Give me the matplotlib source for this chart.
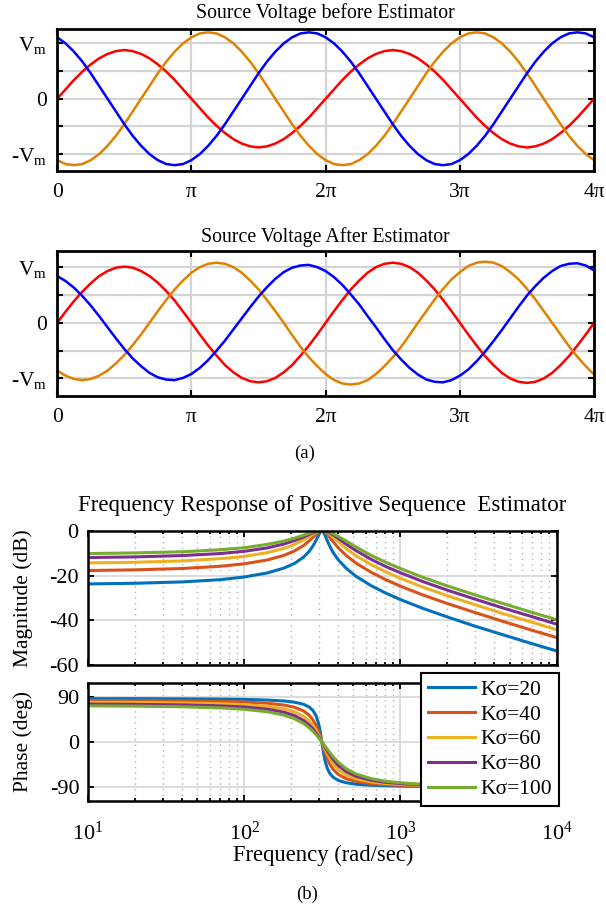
import numpy as np
import matplotlib
matplotlib.use('Agg')
import matplotlib.pyplot as plt
from matplotlib.ticker import LogLocator, NullFormatter

plt.rcParams['font.family'] = ['Liberation Serif', 'DejaVu Serif']
plt.rcParams['mathtext.fontset'] = 'custom'
plt.rcParams['mathtext.rm'] = 'Liberation Serif'
plt.rcParams['mathtext.it'] = 'Liberation Serif:italic'
plt.rcParams['axes.unicode_minus'] = False

# ---- (a) source voltages, x in units of pi, y in units of Vm ----
t_pi = [0, 0.0625, 0.125, 0.1875, 0.25, 0.3125, 0.375, 0.4375, 0.5, 0.5625, 0.625, 0.6875, 0.75, 0.8125, 0.875, 0.9375,
        1.0, 1.0625, 1.125, 1.1875, 1.25, 1.3125, 1.375, 1.4375, 1.5, 1.5625, 1.625, 1.6875, 1.75, 1.8125, 1.875, 1.9375,
        2.0, 2.0625, 2.125, 2.1875, 2.25, 2.3125, 2.375, 2.4375, 2.5, 2.5625, 2.625, 2.6875, 2.75, 2.8125, 2.875, 2.9375,
        3.0, 3.0625, 3.125, 3.1875, 3.25, 3.3125, 3.375, 3.4375, 3.5, 3.5625, 3.625, 3.6875, 3.75, 3.8125, 3.875, 3.9375,
        4.0]

before_red = [0, .17, .34, .49, .62, .73, .81, .86, .88, .86, .81, .73, .62, .49, .34, .17,
              0, -.17, -.34, -.49, -.62, -.73, -.81, -.86, -.88, -.86, -.81, -.73, -.62, -.49, -.34, -.17,
              0, .17, .34, .49, .62, .73, .81, .86, .88, .86, .81, .73, .62, .49, .34, .17,
              0, -.17, -.34, -.49, -.62, -.73, -.81, -.86, -.88, -.86, -.81, -.73, -.62, -.49, -.34, -.17,
              0]
before_orange = [-1.11, -1.18, -1.2, -1.18, -1.11, -1.0, -.85, -.67, -.46, -.23,
                 0, .23, .46, .67, .85, 1.0, 1.11, 1.18, 1.2, 1.18, 1.11, 1.0, .85, .67, .46, .23,
                 0, -.23, -.46, -.67, -.85, -1.0, -1.11, -1.18, -1.2, -1.18, -1.11, -1.0, -.85, -.67, -.46, -.23,
                 0, .23, .46, .67, .85, 1.0, 1.11, 1.18, 1.2, 1.18, 1.11, 1.0, .85, .67, .46, .23,
                 0, -.23, -.46, -.67, -.85, -1.0, -1.11]
before_blue = [1.11, 1.0, .85, .67, .46, .23, 0, -.23, -.46, -.67, -.85, -1.0, -1.11, -1.18, -1.2, -1.18,
               -1.11, -1.0, -.85, -.67, -.46, -.23, 0, .23, .46, .67, .85, 1.0, 1.11, 1.18, 1.2, 1.18,
               1.11, 1.0, .85, .67, .46, .23, 0, -.23, -.46, -.67, -.85, -1.0, -1.11, -1.18, -1.2, -1.18,
               -1.11, -1.0, -.85, -.67, -.46, -.23, 0, .23, .46, .67, .85, 1.0, 1.11, 1.18, 1.2, 1.18,
               1.11]

after_red = [0, .20, .39, .56, .71, .84, .93, .99, 1.01, .99, .93, .84, .72, .57, .40, .20,
             0, -.21, -.41, -.59, -.76, -.89, -.99, -1.05, -1.07, -1.05, -.99, -.89, -.76, -.59, -.41, -.21,
             0, .21, .41, .60, .76, .90, 1.0, 1.06, 1.08, 1.06, 1.0, .90, .76, .60, .41, .21,
             0, -.21, -.41, -.60, -.76, -.90, -1.0, -1.06, -1.08, -1.06, -1.0, -.90, -.76, -.60, -.41, -.21,
             0]
after_orange = [-.86, -.95, -1.01, -1.03, -1.01, -.95, -.86, -.73, -.58, -.40, -.21, 0, .21, .41, .60, .76,
                .90, 1.0, 1.06, 1.08, 1.06, 1.0, .90, .76, .60, .41, .21, 0, -.22, -.43, -.62, -.78,
                -.92, -1.03, -1.09, -1.11, -1.09, -1.03, -.92, -.78, -.62, -.43, -.22, 0, .21, .42, .61, .78,
                .91, 1.02, 1.08, 1.10, 1.08, 1.02, .91, .78, .61, .42, .21, 0, -.21, -.42, -.61, -.78,
                -.93]
after_blue = [.84, .75, .63, .48, .31, .12, -.08, -.28, -.47, -.64, -.78, -.90, -.98, -1.02, -1.03, -.99,
              -.92, -.81, -.67, -.50, -.32, -.12, .08, .28, .47, .64, .79, .91, .99, 1.03, 1.04, 1.0,
              .93, .82, .68, .51, .33, .12, -.08, -.29, -.49, -.66, -.81, -.93, -1.02, -1.06, -1.07, -1.03,
              -.95, -.84, -.69, -.52, -.33, -.13, .08, .29, .49, .66, .81, .93, 1.02, 1.06, 1.07, 1.03,
              .94]

# ---- (b) frequency response ----
w = [10, 20, 40, 70, 100, 140, 180, 210, 240, 260, 275, 288, 298, 305, 310, 314, 318, 323, 330, 340, 352,
     370, 400, 450, 520, 650, 800, 1000, 1400, 2000, 3000, 4500, 7000, 10000]

mag20 = [-23.7, -23.4, -22.8, -21.8, -20.6, -18.8, -16.6, -14.5, -11.7, -9.2, -6.8, -4.3, -2.1, -0.8, -0.2, 0,
         -0.2, -0.8, -2.1, -4.3, -6.6, -9.5, -12.9, -16.7, -20.3, -24.5, -27.7, -30.7, -34.7, -38.5, -42.6, -46.4, -50.5, -53.7]
mag40 = [-17.7, -17.4, -16.8, -15.8, -14.7, -13.0, -10.9, -8.9, -6.5, -4.5, -2.9, -1.5, -0.6, -0.2, -0.04, 0,
         -0.04, -0.2, -0.6, -1.5, -2.8, -4.7, -7.5, -11.0, -14.4, -18.5, -21.7, -24.7, -28.7, -32.5, -36.5, -40.4, -44.5, -47.7]
mag60 = [-14.3, -14.0, -13.4, -12.4, -11.4, -9.7, -7.8, -6.0, -4.0, -2.6, -1.5, -0.7, -0.3, -0.1, -0.02, 0,
         -0.02, -0.1, -0.3, -0.7, -1.5, -2.7, -4.8, -7.9, -11.1, -15.1, -18.2, -21.2, -25.2, -29.0, -33.0, -36.9, -40.9, -44.2]
mag80 = [-11.9, -11.6, -11.0, -10.1, -9.1, -7.6, -5.8, -4.3, -2.7, -1.6, -0.9, -0.4, -0.2, -0.05, -0.01, 0,
         -0.01, -0.05, -0.2, -0.4, -0.9, -1.7, -3.3, -5.9, -8.8, -12.7, -15.8, -18.7, -22.7, -26.5, -30.5, -34.4, -38.4, -41.7]
mag100 = [-10.1, -9.8, -9.3, -8.4, -7.5, -6.0, -4.5, -3.2, -1.9, -1.1, -0.6, -0.3, -0.1, -0.04, 0, 0,
          0, -0.04, -0.1, -0.3, -0.6, -1.2, -2.4, -4.5, -7.2, -10.9, -13.9, -16.8, -20.8, -24.6, -28.6, -32.4, -36.5, -39.7]

ph20 = [86.2, 86.1, 85.8, 85.3, 84.7, 83.4, 81.5, 79.1, 74.9, 69.7, 62.9, 52.4, 38.7, 24.2, 11.3, 0,
        -11.3, -24.2, -38.7, -52.4, -62.2, -70.3, -76.9, -81.6, -84.5, -86.6, -87.6, -88.3, -88.9, -89.3, -89.6, -89.7, -89.8, -89.9]
ph40 = [82.5, 82.3, 81.7, 80.7, 79.4, 77.1, 73.4, 69.0, 61.6, 53.5, 44.3, 33.0, 21.8, 12.7, 5.7, 0,
        -5.7, -12.7, -21.8, -33.0, -43.5, -54.5, -65.1, -73.6, -79.0, -83.2, -85.3, -86.7, -87.9, -88.6, -89.1, -89.5, -89.7, -89.8]
ph60 = [78.8, 78.5, 77.6, 76.2, 74.3, 71.0, 65.9, 60.0, 50.9, 42.0, 33.0, 23.4, 14.9, 8.5, 3.8, 0,
        -3.8, -8.5, -14.9, -23.4, -32.3, -43.0, -55.1, -66.2, -73.8, -79.9, -83.0, -85.0, -86.8, -88.0, -88.7, -89.2, -89.5, -89.6]
ph80 = [75.3, 74.8, 73.7, 71.8, 69.5, 65.3, 59.2, 52.4, 42.8, 34.0, 26.0, 18.0, 11.3, 6.4, 2.9, 0,
        -2.9, -6.4, -11.3, -18.0, -25.4, -35.0, -47.1, -59.5, -68.8, -76.6, -80.7, -83.3, -85.8, -87.3, -88.3, -88.9, -89.3, -89.5]
ph100 = [71.8, 71.2, 70.0, 67.7, 65.0, 60.1, 53.3, 46.1, 36.5, 28.4, 21.3, 14.6, 9.1, 5.1, 2.3, 0,
         -2.3, -5.1, -9.1, -14.6, -20.8, -29.2, -40.7, -53.7, -64.1, -73.4, -78.4, -81.7, -84.7, -86.6, -87.9, -88.6, -89.1, -89.4]

k_labels = ['K\u03c3=20', 'K\u03c3=40', 'K\u03c3=60', 'K\u03c3=80', 'K\u03c3=100']
pi_labels = ['0', '\u03c0', '2\u03c0', '3\u03c0', '4\u03c0']
vm_labels = ['-V$_\\mathrm{m}$', '', '0', '', 'V$_\\mathrm{m}$']

wave_colors = ['red', '#E08200', 'blue']
bode_colors = ['#0072BD', '#D95319', '#EDB120', '#7E2F8E', '#77AC30']

W, H = 606., 908.
fig = plt.figure(figsize=(W / 100, H / 100), dpi=100)


def px_axes(l, t, r, b):
    return fig.add_axes([l / W, 1 - b / H, (r - l) / W, (b - t) / H])


def wave_plot(ax, red, orange, blue, ylim):
    for y, c in zip([red, orange, blue], wave_colors):
        ax.plot(t_pi, y, color=c, lw=1.8, solid_joinstyle='round')
    ax.set_xlim(0, 4)
    ax.set_ylim(*ylim)
    ax.set_xticks([0, 1, 2, 3, 4])
    ax.set_xticklabels(pi_labels)
    ax.set_yticks([-1, -0.5, 0, 0.5, 1])
    ax.set_yticklabels(vm_labels)
    ax.grid(True, color='#d4d4d4', lw=1.6)
    ax.set_axisbelow(True)
    ax.tick_params(direction='in', top=True, right=True, length=4, width=1.5, labelsize=15.5)
    ax.tick_params(axis='x', pad=9)
    ax.tick_params(axis='y', pad=7)
    for sp in ax.spines.values():
        sp.set_linewidth(2.0)


ax1 = px_axes(57.2, 29, 594.1, 170.7)
wave_plot(ax1, before_red, before_orange, before_blue, (-1.3, 1.26))
fig.text(325.6 / W, 1 - 13.3 / H, 'Source Voltage before Estimator', ha='center', va='center', fontsize=14.3)

ax2 = px_axes(57.2, 251, 594.1, 395.7)
wave_plot(ax2, after_red, after_orange, after_blue, (-1.31, 1.29))
fig.text(325.6 / W, 1 - 236.7 / H, 'Source Voltage After Estimator', ha='center', va='center', fontsize=14.3)

fig.text(305 / W, 1 - 453 / H, '(a)', ha='center', va='center', fontsize=13.5)


def bode_style(ax):
    ax.set_xscale('log')
    ax.set_xlim(10, 1e4)
    ax.xaxis.set_minor_locator(LogLocator(base=10, subs=np.arange(2, 10), numticks=20))
    ax.xaxis.set_minor_formatter(NullFormatter())
    ax.grid(True, which='major', color='#d9d9d9', lw=1.3)
    ax.grid(True, which='minor', axis='x', color='#b0b0b0', lw=1.0, linestyle=(0, (1, 3)))
    ax.set_axisbelow(True)
    ax.tick_params(which='both', direction='in', top=True, right=True, width=1.3, labelsize=16)
    ax.tick_params(which='major', length=4.5)
    ax.tick_params(which='minor', length=2.5)
    for sp in ax.spines.values():
        sp.set_linewidth(1.8)


mags = [mag20, mag40, mag60, mag80, mag100]
phases = [ph20, ph40, ph60, ph80, ph100]

ax3 = px_axes(88, 531, 556.6, 665)
for m, c in zip(mags, bode_colors):
    ax3.plot(w, m, color=c, lw=2.2)
bode_style(ax3)
ax3.set_ylim(-60, 0)
ax3.set_yticks([-60, -40, -20, 0])
ax3.tick_params(axis='x', labelbottom=False)
ax3.tick_params(axis='y', pad=7)
ax3.set_ylabel('Magnitude (dB)', fontsize=15.5)
ax3.yaxis.set_label_coords((33 - 88) / 468.6, 0.5)

ax4 = px_axes(88, 682.7, 556.6, 801)
lines = []
for p, c, lab in zip(phases, bode_colors, k_labels):
    ln, = ax4.plot(w, p, color=c, lw=2.2, label=lab)
    lines.append(ln)
bode_style(ax4)
ax4.set_ylim(-118, 118)
ax4.set_yticks([-90, 0, 90])
ax4.tick_params(axis='x', pad=15)
ax4.tick_params(axis='y', pad=6)
ax4.set_ylabel('Phase (deg)', fontsize=15.5)
ax4.yaxis.set_label_coords((33 - 88) / 468.6, 0.5)

leg = ax4.legend(handles=lines, loc='upper right', bbox_to_anchor=(558.6 / W, 1 - 673.3 / H),
                 bbox_transform=fig.transFigure, borderaxespad=0, fontsize=15.5, fancybox=False,
                 framealpha=1, edgecolor='black', handlelength=2.2, handletextpad=0.25,
                 labelspacing=0.22, borderpad=0.3)
leg.get_frame().set_linewidth(1.5)
leg.set_zorder(10)

fig.text(322 / W, 1 - 505 / H, 'Frequency Response of Positive Sequence  Estimator',
         ha='center', va='center', fontsize=16.5)
fig.text(323 / W, 1 - 855 / H, 'Frequency (rad/sec)', ha='center', va='center', fontsize=16.3)
fig.text(307 / W, 1 - 894 / H, '(b)', ha='center', va='center', fontsize=13.5)

plt.savefig('out.png', dpi=100)
